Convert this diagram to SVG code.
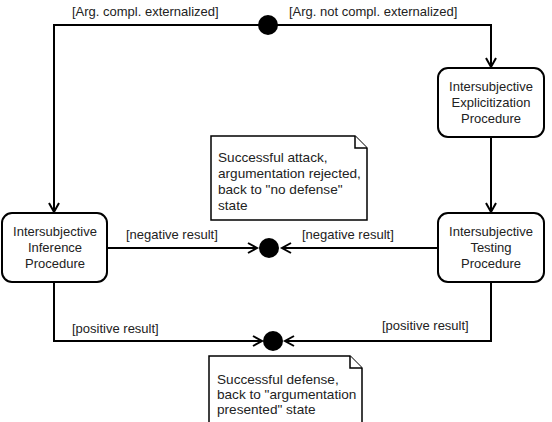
<svg xmlns="http://www.w3.org/2000/svg" width="552" height="422" viewBox="0 0 552 422">
<style>
text{font-family:"Liberation Sans",Arial,sans-serif;font-size:13px;fill:#222}
.node rect{fill:#fff;stroke:#000;stroke-width:2}
.node text{text-anchor:middle}
.note text{font-size:13.6px}
.conn{fill:none;stroke:#000;stroke-width:2;marker-end:url(#arr)}
.dot{fill:#000}
.note path{fill:#fff;stroke:#000;stroke-width:1.5;stroke-linejoin:miter}
</style>
<defs>
<marker id="arr" markerUnits="userSpaceOnUse" markerWidth="14" markerHeight="14" viewBox="-11 -7 14 14" refX="0" refY="0" orient="auto" overflow="visible">
<path d="M-9,-5 L0,0 L-9,5" fill="none" stroke="#000" stroke-width="2"/>
</marker>
</defs>
<rect width="552" height="422" fill="#fff"/>
<g id="connectors">
<path class="conn" d="M260,25 H54 V212"/>
<path class="conn" d="M277,25 H491 V67"/>
<path class="conn" d="M491,138 V212"/>
<path class="conn" d="M108,248 H257"/>
<path class="conn" d="M438,248 H282"/>
<path class="conn" d="M54,282 V341 H262"/>
<path class="conn" d="M491,282 V341 H285"/>
</g>
<g id="decision-top"><circle class="dot" cx="268" cy="25" r="10"/></g>
<g id="end-negative"><circle class="dot" cx="269" cy="248" r="10"/></g>
<g id="end-positive"><circle class="dot" cx="273" cy="341" r="10"/></g>
<g id="labels">
<text x="72" y="16">[Arg. compl. externalized]</text>
<text x="289" y="16">[Arg. not compl. externalized]</text>
<text x="126" y="239">[negative result]</text>
<text x="302" y="239">[negative result]</text>
<text x="72" y="333">[positive result]</text>
<text x="382" y="330">[positive result]</text>
</g>
<g id="explicitization" class="node">
<rect x="438" y="68" width="106" height="69" rx="10"/>
<text x="491" y="91">Intersubjective</text>
<text x="491" y="107">Explicitization</text>
<text x="491" y="123">Procedure</text>
</g>
<g id="inference" class="node">
<rect x="2" y="213" width="105" height="69" rx="10"/>
<text x="55" y="236">Intersubjective</text>
<text x="55" y="252">Inference</text>
<text x="55" y="268">Procedure</text>
</g>
<g id="testing" class="node">
<rect x="438" y="213" width="106" height="69" rx="10"/>
<text x="491" y="236">Intersubjective</text>
<text x="491" y="252">Testing</text>
<text x="491" y="268">Procedure</text>
</g>
<g id="note-attack" class="note">
<path d="M211,136 H355 L367,148 V220 H211 Z"/>
<path d="M355,136 V148 H367" fill="none"/>
<text x="218" y="162">Successful attack,</text>
<text x="218" y="178">argumentation rejected,</text>
<text x="218" y="194">back to "no defense"</text>
<text x="218" y="210">state</text>
</g>
<g id="note-defense" class="note">
<path d="M209,356 H350 L362,368 V430 H209 Z"/>
<path d="M350,356 V368 H362" fill="none"/>
<text x="217" y="384">Successful defense,</text>
<text x="217" y="399">back to "argumentation</text>
<text x="217" y="414">presented" state</text>
</g>
</svg>
